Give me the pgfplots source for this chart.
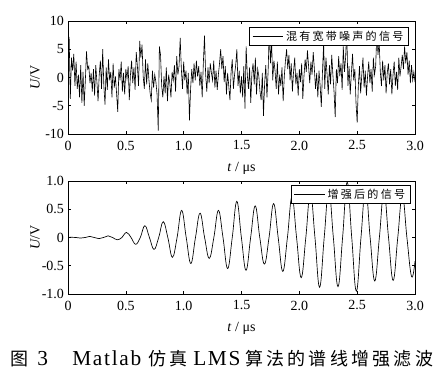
\documentclass[border=0pt]{standalone}
\usepackage{fontspec}
\setmainfont{Liberation Serif}
\newfontfamily\cjkleg[LetterSpace=20]{Noto Sans CJK SC}
\newfontfamily\cjkcap[LetterSpace=18]{Noto Sans CJK SC}
\newfontfamily\latcap[LetterSpace=8]{Liberation Serif}
\usepackage{pgfplots}
\usepackage{pgfplotstable}
\pgfplotsset{compat=1.18}

\pgfplotstableread[row sep=\\]{
y\\
5.0\\ 7.2\\ -3.8\\ 3.5\\ 1.2\\ 4.2\\ -1.5\\ 2.8\\ -2.0\\ 0.5\\
-3.5\\ 2.2\\ -4.5\\ 1.0\\ -5.0\\ -0.5\\ 4.6\\ 1.5\\ 2.0\\ -1.0\\
0.8\\ -2.5\\ 1.5\\ -3.2\\ 2.2\\ -0.8\\ -4.2\\ 0.5\\ 3.0\\ -2.0\\
5.0\\ -1.5\\ -4.8\\ 1.8\\ -2.2\\ 3.2\\ -0.5\\ 1.0\\ -3.5\\ 2.5\\
-1.8\\ 0.2\\ -2.8\\ -6.1\\ 1.5\\ -0.5\\ 2.8\\ -2.5\\ 0.8\\ -3.0\\
1.5\\ -0.2\\ 2.0\\ -4.0\\ 0.5\\ 3.0\\ -1.0\\ 1.8\\ -2.2\\ 4.5\\
2.0\\ -1.5\\ 6.5\\ 3.5\\ 5.8\\ 0.2\\ -2.0\\ 3.2\\ -1.2\\ 2.5\\
-0.5\\ -2.8\\ -4.0\\ 1.2\\ -1.8\\ 0.5\\ -0.8\\ -3.0\\ -9.4\\ 5.5\\
4.0\\ -1.5\\ -3.5\\ 0.2\\ -2.8\\ 1.8\\ -4.2\\ 0.5\\ -1.0\\ -3.5\\
1.0\\ -0.5\\ 2.2\\ -2.5\\ 3.8\\ 0.5\\ 2.0\\ 7.0\\ 1.5\\ -2.0\\
2.8\\ -0.5\\ 1.2\\ -3.0\\ 0.8\\ -7.6\\ -2.0\\ 1.5\\ -1.0\\ 2.5\\
-0.5\\ 3.0\\ 0.2\\ 2.0\\ -1.5\\ 1.0\\ -3.5\\ 2.5\\ 7.4\\ 0.5\\
-2.5\\ 1.8\\ -1.0\\ 2.5\\ 0.8\\ -0.5\\ 3.0\\ -1.8\\ 1.2\\ -2.2\\
0.5\\ 2.5\\ 5.0\\ 1.5\\ 3.8\\ -0.8\\ 2.0\\ -3.0\\ 0.8\\ -1.5\\
-4.0\\ 1.0\\ 3.2\\ -2.0\\ 0.5\\ 2.2\\ 5.0\\ -1.5\\ 1.2\\ -2.8\\
0.2\\ -3.5\\ 2.0\\ -5.5\\ 5.5\\ 0.5\\ -2.0\\ 1.8\\ -4.5\\ 0.8\\
2.5\\ -1.2\\ 3.5\\ -3.0\\ 1.5\\ 0.2\\ -2.5\\ -4.0\\ 0.8\\ -6.8\\
-1.0\\ 2.2\\ -3.5\\ 1.0\\ 8.5\\ 2.5\\ 6.5\\ -0.5\\ 3.0\\ 1.2\\
-2.0\\ 2.8\\ -3.0\\ 0.5\\ -1.5\\ 1.8\\ -4.2\\ 0.2\\ 3.0\\ 5.0\\
1.5\\ 4.0\\ -0.5\\ 2.5\\ -2.5\\ 1.0\\ 3.5\\ -1.2\\ 0.8\\ -3.2\\
1.5\\ -0.8\\ 2.5\\ -3.8\\ 0.2\\ 3.2\\ 1.0\\ 4.8\\ 2.0\\ -1.0\\
2.8\\ 0.5\\ 4.5\\ 1.5\\ -2.0\\ 0.8\\ -3.5\\ 1.2\\ -1.5\\ -5.2\\
1.0\\ 6.0\\ -2.0\\ 3.5\\ 0.5\\ -3.0\\ 2.2\\ -1.2\\ 4.0\\ 0.5\\
-2.5\\ -7.0\\ 1.5\\ -1.0\\ 3.8\\ 0.2\\ 2.5\\ -2.2\\ 5.5\\ 1.0\\
3.5\\ 8.5\\ -1.5\\ 2.0\\ -3.0\\ 0.8\\ 4.2\\ -0.5\\ 1.5\\ -4.5\\
-8.0\\ -1.5\\ 2.0\\ -2.8\\ 0.5\\ 3.5\\ -1.8\\ 1.2\\ -3.2\\ 0.2\\
2.8\\ -1.0\\ 1.5\\ -2.5\\ 3.5\\ 0.5\\ 2.0\\ 8.0\\ 4.0\\ 6.5\\
1.0\\ -1.5\\ 3.0\\ -0.5\\ 2.2\\ -2.8\\ 0.8\\ 2.5\\ -1.2\\ 1.5\\
-3.0\\ 0.5\\ 2.8\\ -1.5\\ 1.0\\ -2.2\\ 3.5\\ 0.2\\ 2.0\\ 4.0\\
1.5\\ 5.5\\ 2.5\\ 4.5\\ 0.5\\ 3.0\\ -1.0\\ 2.2\\ -0.5\\ 1.0\\
-0.8\\
}\noisedata

\pgfplotsset{myax/.style={
  scale only axis, width=260.25pt, height=84.75pt,
  xmin=0, xmax=3,
  axis line style={line width=0.6pt},
  tick align=inside, major tick length=2.5pt,
  tick style={black, line width=0.5pt},
  xtick={0,0.5,1,1.5,2,2.5,3},
  xticklabels={0,0.5,1.0,1.5,2.0,2.5,3.0},
  ticklabel style={font=\fontsize{10.5}{12}\selectfont},
  xticklabel style={yshift=-1.5pt},
  yticklabel style={xshift=0.5pt},
  /pgf/number format/assume math mode=true,
  xlabel={\textit{t} / μs}, ylabel={\textit{U}/V},
  label style={font=\fontsize{10.5}{12}\selectfont},
  xlabel style={at={(axis description cs:0.5,-0.30)}, anchor=center},
  ylabel style={at={(axis description cs:-0.095,0.5)}, anchor=center},
  legend style={draw=black, fill=white, anchor=north east,
    inner xsep=2pt, inner ysep=0.5pt, line width=0.6pt,
    font={\cjkleg\fontsize{8.3}{10}\selectfont}},
  legend image code/.code={\draw[#1, line width=0.6pt] (0cm,0cm) -- (0.8cm,0cm);},
  legend cell align=left,
}}

\begin{document}
\begin{tikzpicture}
\useasboundingbox (0pt,0pt) rectangle (336pt,-286.5pt);
\begin{axis}[myax, at={(51pt,-100.5pt)}, anchor=south west,
  ymin=-10, ymax=10, ytick={-10,-5,0,5,10},
  legend style={at={(0.983,0.947)}}]
\addplot[black, line width=0.45pt] table[x expr=\coordindex*0.01, y=y] {\noisedata};
\addlegendentry{混有宽带噪声的信号}
\end{axis}

\begin{axis}[myax, at={(51pt,-220.5pt)}, anchor=south west,
  ymin=-1, ymax=1, ytick={-1,-0.5,0,0.5,1},
  yticklabels={-1.0,-0.5,0,0.5,1.0},
  legend style={at={(0.988,0.965)}}]
\addplot[black, line width=0.5pt, smooth, tension=0.7] coordinates {
(0,0) (0.0285,0.005) (0.068,0) (0.108,-0.01) (0.148,0) (0.1875,0.02) (0.227,0) (0.267,-0.02)
(0.307,0) (0.3465,0.03) (0.386,0) (0.426,-0.04) (0.466,0) (0.5055,0.09) (0.545,0) (0.585,-0.12)
(0.625,0) (0.6645,0.21) (0.704,0) (0.744,-0.21) (0.784,0) (0.8235,0.28) (0.863,0) (0.903,-0.35)
(0.943,0) (0.9825,0.48) (1.022,0) (1.062,-0.46) (1.102,0) (1.1415,0.43) (1.181,0) (1.221,-0.37)
(1.261,0) (1.3005,0.48) (1.340,0) (1.380,-0.55) (1.420,0) (1.4595,0.64) (1.499,0) (1.539,-0.58)
(1.579,0) (1.6185,0.56) (1.658,0) (1.698,-0.47) (1.738,0) (1.7775,0.60) (1.817,0) (1.857,-0.60)
(1.897,0) (1.9365,0.72) (1.976,0) (2.016,-0.71) (2.056,0) (2.0955,0.80) (2.135,0) (2.175,-0.88)
(2.215,0) (2.2545,0.85) (2.294,0) (2.334,-0.87) (2.374,0) (2.4135,0.98) (2.453,0) (2.493,-0.95)
(2.533,0) (2.5725,0.88) (2.612,0) (2.652,-0.77) (2.692,0) (2.7315,0.82) (2.771,0) (2.811,-0.76)
(2.851,0) (2.8905,0.75) (2.930,0) (2.970,-0.69) (3.0,-0.42)
};
\addlegendentry{增强后的信号}
\end{axis}

\begin{scope}[every node/.style={inner sep=0pt, anchor=base west}]
\node at (7.5pt,-274.1pt) {\cjkcap\fontsize{13.5}{15}\selectfont 图};
\node at (27.75pt,-274.1pt) {\latcap\fontsize{16}{18}\selectfont 3};
\node at (54pt,-274.1pt) {\latcap\fontsize{16}{18}\selectfont Matlab};
\node at (111pt,-274.1pt) {\cjkcap\fontsize{13.5}{15}\selectfont 仿真};
\node at (144.75pt,-274.1pt) {\latcap\fontsize{16}{18}\selectfont LMS};
\node at (183.75pt,-274.1pt) {\cjkcap\fontsize{13.5}{15}\selectfont 算法的谱线增强滤波};
\end{scope}
\end{tikzpicture}
\end{document}
